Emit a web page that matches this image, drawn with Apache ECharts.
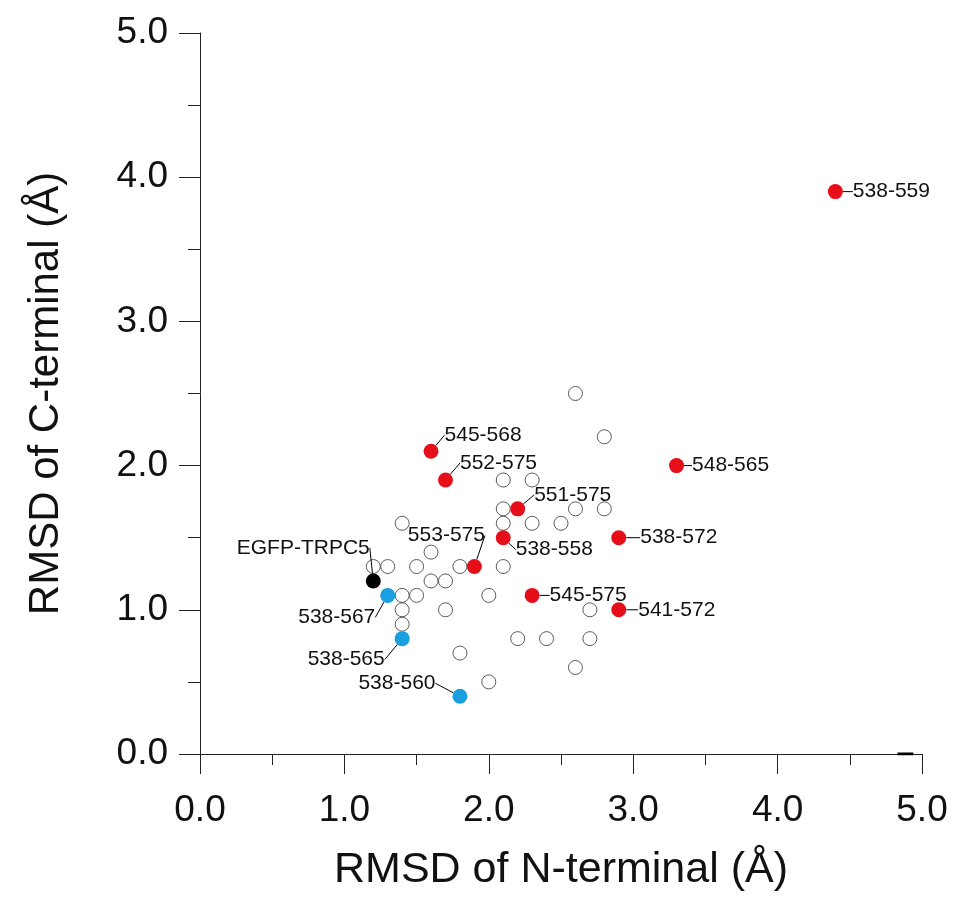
<!DOCTYPE html>
<html>
<head>
<meta charset="utf-8">
<script src="https://cdn.jsdelivr.net/npm/echarts@6/dist/echarts.min.js"></script>
<style>
html,body{margin:0;padding:0;background:#fff;}
#chart{width:957px;height:897px;}
</style>
</head>
<body>
<div id="chart"></div>
<script>
// ---- data ----
const openPoints = [
  [1.2,1.3],[1.3,1.3],[1.4,1.6],[1.6,1.4],[1.5,1.3],[1.8,1.3],[1.6,1.2],[1.7,1.2],
  [1.4,1.1],[1.5,1.1],[1.4,1.0],[1.7,1.0],[1.4,0.9],[1.8,0.7],[2.0,0.5],[2.0,1.1],
  [2.1,1.9],[2.3,1.9],[2.1,1.7],[2.1,1.6],[2.3,1.6],[2.5,1.6],[2.6,1.7],[2.8,1.7],
  [2.1,1.3],[2.6,2.5],[2.8,2.2],[2.7,1.0],[2.2,0.8],[2.4,0.8],[2.7,0.8],[2.6,0.6]
];
const redNames = ['538-559','548-565','538-572','541-572','545-575','538-558','551-575','552-575','545-568','553-575'];
const redPoints = [[4.4,3.9],[3.3,2.0],[2.9,1.5],[2.9,1.0],[2.3,1.1],[2.1,1.5],[2.2,1.7],[1.7,1.9],[1.6,2.1],[1.9,1.3]];
const blueNames = ['538-567','538-565','538-560'];
const bluePoints = [[1.3,1.1],[1.4,0.8],[1.8,0.4]];
const blackNames = ['EGFP-TRPC5'];
const blackPoints = [[1.2,1.2]];
const stubLine = [[4.83,0],[4.94,0]];

// ---- label placement (style, pixels) ----
const labelOffsets = {
  '538-559':[0,0], '548-565':[-2,0], '538-572':[4,0], '541-572':[2,0], '545-575':[0,0],
  '538-558':[-5,12], '551-575':[-1,-14], '552-575':[-3,-17], '545-568':[-4,-16],
  '553-575':[-84,-31], 'EGFP-TRPC5':[-154,-33], '538-567':[-107,22], '538-565':[-112,21],
  '538-560':[-119,-13]
};

function items(names, pts){ return pts.map((p,i)=>({name:names[i], value:p})); }

const FONT = 'Liberation Sans, Arial, Helvetica, sans-serif';

function labeledSeries(names, pts, color){
  const data = items(names, pts);
  return {
    type:'scatter', data:data, symbolSize:15, z:5,
    itemStyle:{color:color, opacity:1},
    label:{show:true, position:'right', distance:10, formatter:'{b}', fontSize:21, color:'#111', fontFamily:FONT},
    labelLine:{show:true, lineStyle:{color:'#000', width:1}},
    labelLayout:function(params){
      const n = data[params.dataIndex].name;
      const o = labelOffsets[n] || [0,0];
      return {dx:o[0], dy:o[1]};
    },
    emphasis:{disabled:true}
  };
}

const chart = echarts.init(document.getElementById('chart'), null, {renderer:'canvas'});
const axisCommon = {
  type:'value', min:0, max:5, interval:1,
  axisLine:{show:true, onZero:false, lineStyle:{color:'#222', width:1}},
  splitLine:{show:false},
  axisLabel:{formatter:v=>v.toFixed(1), fontSize:37, color:'#111', fontFamily:FONT},
  nameLocation:'middle',
  nameTextStyle:{fontSize:43, color:'#111', fontFamily:FONT}
};
chart.setOption({
  backgroundColor:'#fff',
  animation:false,
  grid:{left:200, right:35, top:33, bottom:142, containLabel:false},
  xAxis:Object.assign({}, axisCommon, {
    name:'RMSD of N-terminal (Å)', nameGap:95,
    axisTick:{show:true, length:20, lineStyle:{color:'#222', width:1}},
    minorTick:{show:true, splitNumber:2, length:11, lineStyle:{color:'#222', width:1}},
    axisLabel:Object.assign({}, axisCommon.axisLabel, {margin:38})
  }),
  yAxis:Object.assign({}, axisCommon, {
    name:'RMSD of C-terminal (Å)', nameGap:133,
    nameTextStyle:{fontSize:42, color:'#111', fontFamily:FONT},
    axisTick:{show:true, length:21, lineStyle:{color:'#222', width:1}},
    minorTick:{show:true, splitNumber:2, length:12, lineStyle:{color:'#222', width:1}},
    axisLabel:Object.assign({}, axisCommon.axisLabel, {margin:32})
  }),
  series:[
    {type:'scatter', data:openPoints, symbolSize:14, z:3,
     itemStyle:{color:'#fff', borderColor:'#333', borderWidth:1}, emphasis:{disabled:true}},
    labeledSeries(redNames, redPoints, '#e60f19'),
    labeledSeries(blueNames, bluePoints, '#1a9fe0'),
    labeledSeries(blackNames, blackPoints, '#000'),
    {type:'line', data:stubLine, showSymbol:false, symbol:'none', z:6,
     lineStyle:{color:'#000', width:3}, emphasis:{disabled:true}}
  ]
});
</script>
</body>
</html>
